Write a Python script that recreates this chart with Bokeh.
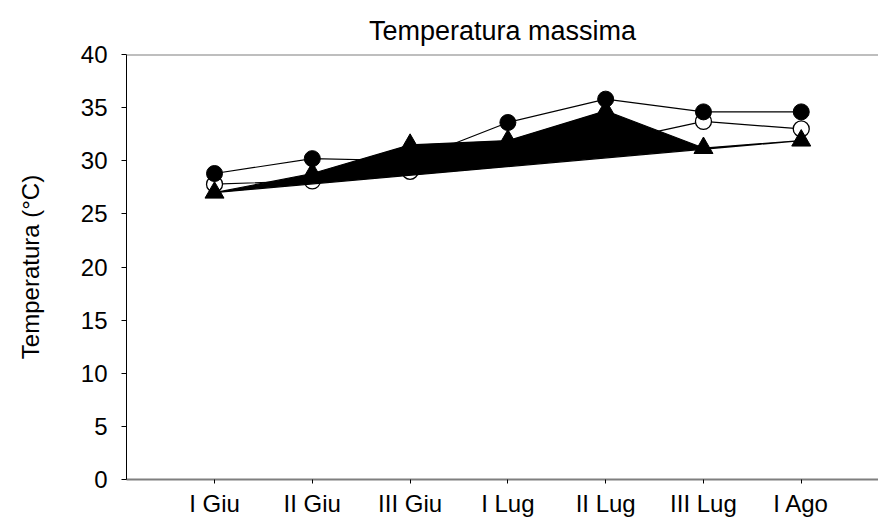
from bokeh.plotting import figure
from bokeh.models import Range1d, FixedTicker, Span
from bokeh.embed import file_html
from bokeh.resources import INLINE

# Ten-day periods (June - August)
periods = ["I Giu", "II Giu", "III Giu", "I Lug", "II Lug", "III Lug", "I Ago"]

# Maximum temperature (°C) for the three series
tmax_filled = [28.8, 30.2, 30.0, 33.6, 35.8, 34.6, 34.6]
tmax_open = [27.8, 28.1, 29.0, 30.8, 31.7, 33.7, 33.0]
tmax_tri = [27.0, 28.8, 31.5, 31.9, 34.7, 31.2, 31.9]

y_ticks = [0, 5, 10, 15, 20, 25, 30, 35, 40]

x = list(range(1, len(periods) + 1))
FONT = "Liberation Sans"

p = figure(width=878, height=522, output_backend="svg", toolbar_location=None,
           x_range=Range1d(0.1, 7.79), y_range=Range1d(0, 40),
           min_border_left=126, min_border_right=0, min_border_top=54,
           min_border_bottom=43)
p.outline_line_color = None
p.xgrid.visible = False
p.ygrid.visible = False
p.background_fill_color = "white"
p.border_fill_color = "white"

p.title.text = "Temperatura massima"
p.title.align = "center"
p.title.text_font = FONT
p.title.text_font_size = "27px"
p.title.text_font_style = "normal"
p.title.text_color = "black"
p.title.standoff = 17

# x axis
p.xaxis.ticker = FixedTicker(ticks=x)
p.xaxis.major_label_overrides = {i: lab for i, lab in zip(x, periods)}
p.xaxis.axis_line_color = "#7f7f7f"
p.xaxis.axis_line_width = 2
p.xaxis.major_tick_in = 0
p.xaxis.major_tick_out = 4
p.xaxis.major_tick_line_color = "black"
p.xaxis.minor_tick_line_color = None
p.xaxis.major_label_text_font = FONT
p.xaxis.major_label_text_font_size = "24px"
p.xaxis.major_label_text_color = "black"
p.xaxis.major_label_standoff = 6

# y axis
p.yaxis.ticker = FixedTicker(ticks=y_ticks)
p.yaxis.axis_label = "Temperatura (°C)"
p.yaxis.axis_label_text_font = FONT
p.yaxis.axis_label_text_font_size = "24px"
p.yaxis.axis_label_text_font_style = "normal"
p.yaxis.axis_label_text_color = "black"
p.yaxis.axis_label_standoff = 34
p.yaxis.axis_line_color = "black"
p.yaxis.major_tick_in = 0
p.yaxis.major_tick_out = 5
p.yaxis.minor_tick_line_color = None
p.yaxis.major_label_text_font = FONT
p.yaxis.major_label_text_font_size = "24px"
p.yaxis.major_label_text_color = "black"
p.yaxis.major_label_standoff = 14

# top frame line
p.add_layout(Span(location=40, dimension="width", line_color="#7f7f7f", line_width=2))

# open circles
p.line(x, tmax_open, line_color="black", line_width=1.2)
p.scatter(x, tmax_open, marker="circle", size=16, fill_color="white",
          line_color="black", line_width=1.3)

# filled circles
p.line(x, tmax_filled, line_color="black", line_width=1.2)
p.scatter(x, tmax_filled, marker="circle", size=16, fill_color="black",
          line_color="black")

# triangles, drawn as a closed filled area
p.patch(x, tmax_tri, fill_color="black", line_color="black", line_width=1.2)
p.scatter(x, tmax_tri, marker="triangle", size=19, fill_color="black",
          line_color="black")

open("out.html", "w").write(file_html(p, INLINE))
